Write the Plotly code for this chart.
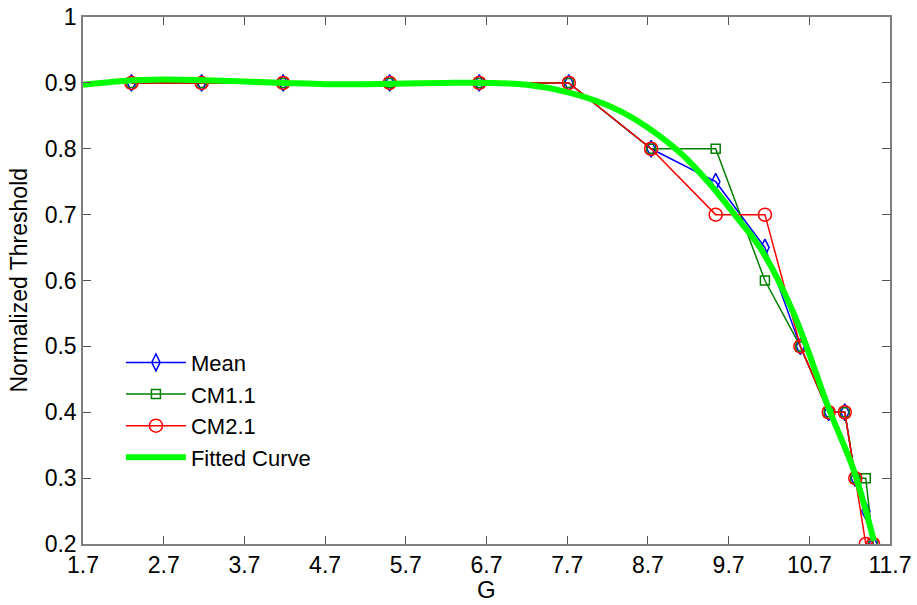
import plotly.graph_objects as go

# ---- data ----
G = [2.3, 3.17, 4.18, 5.5, 6.61, 7.72, 8.74, 9.54, 10.15, 10.59, 10.94, 11.14, 11.27, 11.4, 11.49]
mean_vals = [0.9, 0.9, 0.9, 0.9, 0.9, 0.9, 0.8, 0.75, 0.65, 0.5, 0.4, 0.4, 0.3, 0.25, 0.2]
cm11_vals = [0.9, 0.9, 0.9, 0.9, 0.9, 0.9, 0.8, 0.8, 0.6, 0.5, 0.4, 0.4, 0.3, 0.3, 0.2]
cm21_vals = [0.9, 0.9, 0.9, 0.9, 0.9, 0.9, 0.8, 0.7, 0.7, 0.5, 0.4, 0.4, 0.3, 0.2, 0.2]

fit_G = [1.7, 2.2, 2.7, 3.2, 3.7, 4.2, 4.7, 5.2, 5.7, 6.2, 6.7, 7.2, 7.7, 8.2, 8.55,
         9.1, 9.5, 9.8, 10.1, 10.5, 10.95, 11.25, 11.5]
fit_vals = [0.897, 0.903, 0.905, 0.904, 0.902, 0.900, 0.898, 0.898, 0.899, 0.900, 0.900,
            0.897, 0.886, 0.866, 0.844, 0.794, 0.742, 0.696, 0.648, 0.552, 0.403, 0.312, 0.205]

x_ticks = [1.7, 2.7, 3.7, 4.7, 5.7, 6.7, 7.7, 8.7, 9.7, 10.7, 11.7]
x_ticktext = ["1.7", "2.7", "3.7", "4.7", "5.7", "6.7", "7.7", "8.7", "9.7", "10.7", "11.7"]
y_ticks = [0.2, 0.3, 0.4, 0.5, 0.6, 0.7, 0.8, 0.9, 1.0]
y_ticktext = ["0.2", "0.3", "0.4", "0.5", "0.6", "0.7", "0.8", "0.9", "1"]

x_title = "G"
y_title = "Normalized Threshold"

FONT = "Liberation Sans, Arial, sans-serif"

fig = go.Figure()
fig.add_trace(go.Scatter(x=G, y=mean_vals, name="Mean", mode="lines+markers",
                         line=dict(color="#0000ff", width=1.5),
                         marker=dict(symbol="diamond-tall-open", size=12, color="#0000ff",
                                     line=dict(width=1.5, color="#0000ff")),
                         legendgroup="a"))
fig.add_trace(go.Scatter(x=G, y=cm11_vals, name="CM1.1", mode="lines+markers",
                         line=dict(color="#008000", width=1.5),
                         marker=dict(symbol="square-open", size=9, color="#008000",
                                     line=dict(width=1.5, color="#008000")),
                         legendgroup="b"))
fig.add_trace(go.Scatter(x=G, y=cm21_vals, name="CM2.1", mode="lines+markers",
                         line=dict(color="#ff0000", width=1.5),
                         marker=dict(symbol="circle-open", size=13, color="#ff0000",
                                     line=dict(width=1.5, color="#ff0000")),
                         legendgroup="c"))
fig.add_trace(go.Scatter(x=fit_G, y=fit_vals, name="Fitted Curve", mode="lines",
                         line=dict(color="#00ff00", width=6, shape="spline", smoothing=1.0),
                         legendgroup="d"))

axis_common = dict(showline=True, linecolor="#7f7f7f", linewidth=1.5, mirror="allticks",
                   ticks="inside", ticklen=8, tickcolor="#555555", tickwidth=1,
                   showgrid=False, zeroline=False, automargin=False)

fig.update_layout(
    width=917, height=605,
    margin=dict(l=83, r=27, t=17, b=61),
    plot_bgcolor="#ffffff", paper_bgcolor="#ffffff",
    font=dict(family=FONT, size=22, color="#000000"),
    showlegend=True,
    legend=dict(x=0.047, y=0.384, xanchor="left", yanchor="top",
                bgcolor="rgba(255,255,255,0)", borderwidth=0,
                font=dict(family=FONT, size=22, color="#000000"),
                itemwidth=60, tracegroupgap=0),
    xaxis=dict(range=[1.7, 11.7], tickvals=x_ticks, ticktext=x_ticktext,
               tickfont=dict(family=FONT, size=23, color="#000000"),
               **axis_common),
    yaxis=dict(range=[0.2, 1.0], tickvals=y_ticks, ticktext=y_ticktext,
               tickfont=dict(family=FONT, size=23, color="#000000"),
               **axis_common),
    annotations=[
        dict(text=x_title, xref="paper", yref="paper", x=0.5, y=-0.087,
             xanchor="center", yanchor="middle", showarrow=False,
             font=dict(family=FONT, size=24, color="#000000")),
        dict(text=y_title, xref="paper", yref="paper", x=-0.0805, y=0.5,
             xanchor="center", yanchor="middle", textangle=-90, showarrow=False,
             font=dict(family=FONT, size=23, color="#000000")),
    ],
)

fig.write_html("out.html")
